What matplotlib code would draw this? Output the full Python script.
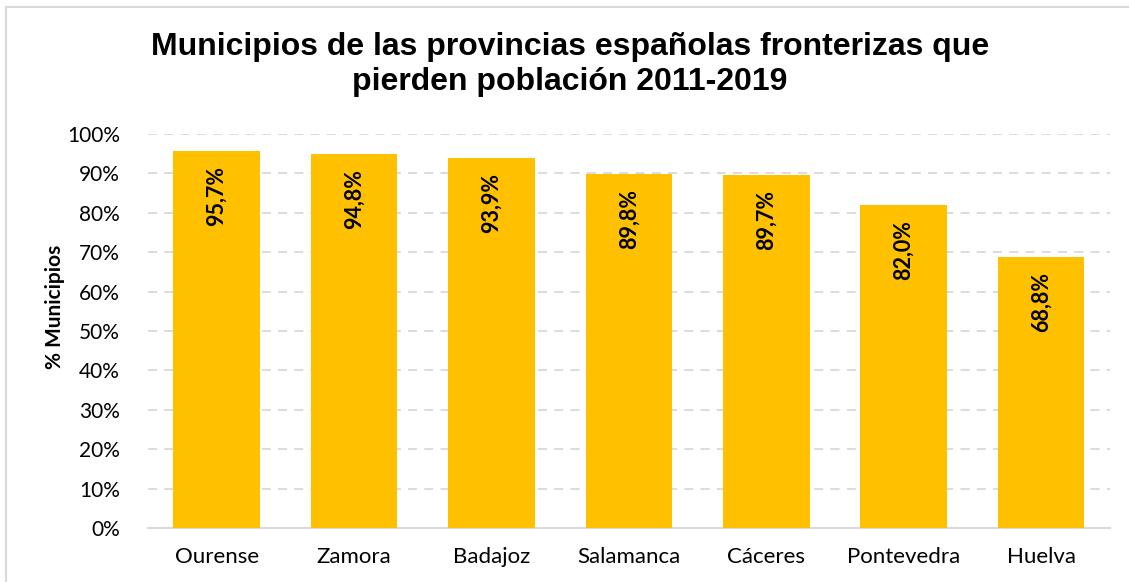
import matplotlib
matplotlib.use("Agg")
import matplotlib.pyplot as plt
from matplotlib.patches import Rectangle

provincias = ["Ourense", "Zamora", "Badajoz", "Salamanca", "Cáceres", "Pontevedra", "Huelva"]
pct_municipios = [95.7, 94.8, 93.9, 89.8, 89.7, 82.0, 68.8]
yticks = list(range(0, 101, 10))

fig = plt.figure(figsize=(11.29, 5.82), dpi=100)
ax = fig.add_axes([0.131, 0.0928, 0.852, 0.677])

# marco del gráfico
fig.patches.append(Rectangle((6 / 1129, -0.05), 1.2, 1 - 7 / 582 + 0.05,
                             transform=fig.transFigure, fill=False,
                             edgecolor="#D9D9D9", lw=1.5))

x = range(len(provincias))
ax.bar(x, pct_municipios, width=0.63, color="#FFC000", zorder=3)

for i, v in enumerate(pct_municipios):
    ax.text(i, v - 3.8, f"{v:.1f}%".replace(".", ","), rotation=90,
            ha="center", va="top", fontsize=15.5, fontweight="bold",
            family="Lato", zorder=4)

ax.set_xlim(-0.5, len(provincias) - 0.5)
ax.set_ylim(0, 100)
ax.set_yticks(yticks)
ax.set_yticklabels([f"{t}%" for t in yticks], family="Lato", fontsize=15)
ax.set_xticks(list(x))
ax.set_xticklabels(provincias, family="Lato", fontsize=16)
ax.tick_params(length=0)
ax.tick_params(axis="y", pad=20)
ax.tick_params(axis="x", pad=14)

ax.grid(axis="y", color="#D9D9D9", linestyle=(0, (5, 4)), lw=1.3, zorder=0)
for s in ["top", "right", "left"]:
    ax.spines[s].set_visible(False)
ax.spines["bottom"].set_color("#D9D9D9")
ax.spines["bottom"].set_linewidth(1.5)

ax.set_ylabel("% Municipios", family="Lato", fontsize=15, fontweight="bold")
ax.yaxis.set_label_coords(-0.086, 0.56)

fig.text(0.505, 0.945, "Municipios de las provincias españolas fronterizas que\npierden población 2011-2019",
         ha="center", va="top", fontsize=23, fontweight="bold",
         family="Liberation Sans", linespacing=1.22)

fig.savefig("out.png", dpi=100)
